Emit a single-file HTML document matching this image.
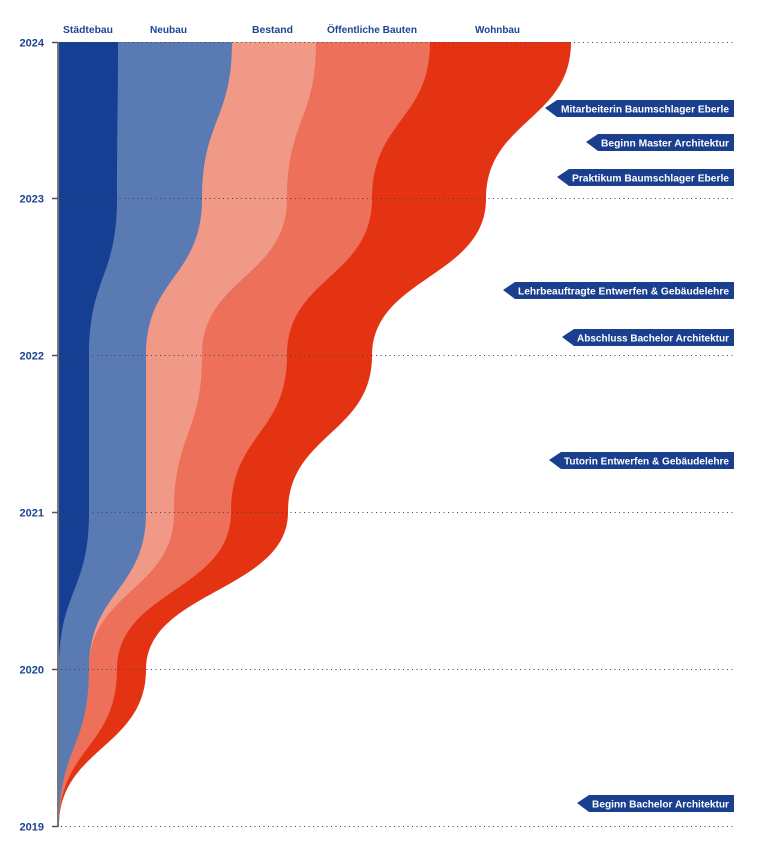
<!DOCTYPE html>
<html><head><meta charset="utf-8"><style>
html,body{margin:0;padding:0;background:#fff;}
svg{display:block;}
text{font-family:"Liberation Sans",sans-serif;font-weight:bold;}
</style></head><body>
<svg width="767" height="854" viewBox="0 0 767 854" xmlns="http://www.w3.org/2000/svg">
<!-- streams: y years 2024..2019 at 42,198.8,355.6,512.4,669.2,826 ; h=156.8 -->
<path fill="#e43313" d="M59,42 L571,42 C571,120.4 486,120.4 486,198.8 C486,277.2 372,277.2 372,355.6 C372,434 288,434 288,512.4 C288,590.8 146,590.8 146,669.2 C146,747.6 59,747.6 59,826 Z"/>
<path fill="#ec705a" d="M59,42 L430,42 C430,120.4 372,120.4 372,198.8 C372,277.2 287,277.2 287,355.6 C287,434 231,434 231,512.4 C231,590.8 117,590.8 117,669.2 C117,747.6 59,747.6 59,826 Z"/>
<path fill="#f19987" d="M59,42 L316,42 C316,120.4 287,120.4 287,198.8 C287,277.2 202,277.2 202,355.6 C202,434 174,434 174,512.4 C174,590.8 89,590.8 89,669.2 C89,747.6 59,747.6 59,826 Z"/>
<path fill="#5a7ab4" d="M59,42 L232,42 C232,120.4 202,120.4 202,198.8 C202,277.2 146,277.2 146,355.6 C146,434 146,434 146,512.4 C146,590.8 89,590.8 89,669.2 C89,747.6 59,747.6 59,826 Z"/>
<path fill="#143f93" d="M59,42 L118,42 C118,120.4 117,120.4 117,198.8 C117,277.2 89,277.2 89,355.6 C89,434 89,434 89,512.4 C89,590.8 59,590.8 59,669.2 L59,826 Z"/>

<!-- dotted gridlines -->
<g stroke="#444" stroke-width="1" stroke-dasharray="1,3.5">
<line x1="61" y1="42.5" x2="736" y2="42.5"/>
<line x1="61" y1="198.5" x2="736" y2="198.5"/>
<line x1="61" y1="355.5" x2="736" y2="355.5"/>
<line x1="61" y1="512.5" x2="736" y2="512.5"/>
<line x1="61" y1="669.5" x2="736" y2="669.5"/>
<line x1="61" y1="826.5" x2="736" y2="826.5"/>
</g>
<!-- axis -->
<line x1="58" y1="42" x2="58" y2="827" stroke="#777" stroke-width="2"/>
<g stroke="#555" stroke-width="1.5">
<line x1="52" y1="42.5" x2="58" y2="42.5"/>
<line x1="52" y1="198.5" x2="58" y2="198.5"/>
<line x1="52" y1="355.5" x2="58" y2="355.5"/>
<line x1="52" y1="512.5" x2="58" y2="512.5"/>
<line x1="52" y1="669.5" x2="58" y2="669.5"/>
<line x1="52" y1="826.5" x2="58" y2="826.5"/>
</g>
<g fill="#1d4592" font-size="11" text-anchor="end">
<text x="44" y="46.5">2024</text>
<text x="44" y="202.5">2023</text>
<text x="44" y="359.5">2022</text>
<text x="44" y="516.5">2021</text>
<text x="44" y="673.5">2020</text>
<text x="44" y="830.5">2019</text>
</g>
<!-- headers -->
<g fill="#1d4592" font-size="10.5">
<text x="63" y="33" textLength="50" lengthAdjust="spacingAndGlyphs">Städtebau</text>
<text x="150" y="33" textLength="37" lengthAdjust="spacingAndGlyphs">Neubau</text>
<text x="252" y="33" textLength="41" lengthAdjust="spacingAndGlyphs">Bestand</text>
<text x="327" y="33" textLength="90" lengthAdjust="spacingAndGlyphs">Öffentliche Bauten</text>
<text x="475" y="33" textLength="45" lengthAdjust="spacingAndGlyphs">Wohnbau</text>
</g>
<!-- tags -->
<g fill="#1b3f8f">
<polygon points="545,108 557,100 734,100 734,117 557,117"/>
<polygon points="586,142 598,134 734,134 734,151 598,151"/>
<polygon points="557,177 569,169 734,169 734,186 569,186"/>
<polygon points="503,290 515,282 734,282 734,299 515,299"/>
<polygon points="562,337 574,329 734,329 734,346 574,346"/>
<polygon points="549,460 561,452 734,452 734,469 561,469"/>
<polygon points="577,803 589,795 734,795 734,812 589,812"/>
</g>
<g fill="#fff" font-size="10.5">
<text x="561" y="112.5" textLength="168" lengthAdjust="spacingAndGlyphs">Mitarbeiterin Baumschlager Eberle</text>
<text x="601" y="146.5" textLength="128" lengthAdjust="spacingAndGlyphs">Beginn Master Architektur</text>
<text x="572" y="181.5" textLength="157" lengthAdjust="spacingAndGlyphs">Praktikum Baumschlager Eberle</text>
<text x="518" y="294.5" textLength="211" lengthAdjust="spacingAndGlyphs">Lehrbeauftragte Entwerfen &amp; Gebäudelehre</text>
<text x="577" y="341.5" textLength="152" lengthAdjust="spacingAndGlyphs">Abschluss Bachelor Architektur</text>
<text x="564" y="464.5" textLength="165" lengthAdjust="spacingAndGlyphs">Tutorin Entwerfen &amp; Gebäudelehre</text>
<text x="592" y="807.5" textLength="137" lengthAdjust="spacingAndGlyphs">Beginn Bachelor Architektur</text>
</g>
</svg>
</body></html>
